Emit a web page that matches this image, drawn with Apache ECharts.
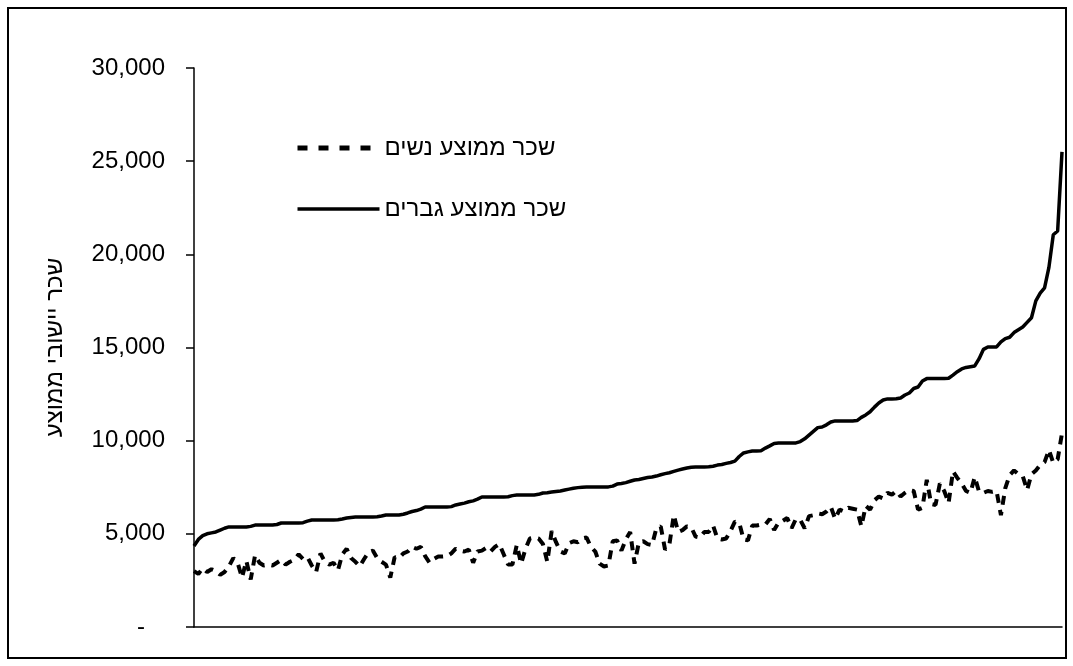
<!DOCTYPE html>
<html>
<head>
<meta charset="utf-8">
<script src="https://cdn.jsdelivr.net/npm/echarts@6/dist/echarts.min.js"></script>
<style>
html,body{margin:0;padding:0;background:#fff;width:1073px;height:666px;overflow:hidden}
#frame{position:absolute;left:7px;top:7px;width:1060px;height:652px;border:2px solid #000;box-sizing:border-box}
#chart{position:absolute;left:0;top:0;width:1073px;height:666px}
</style>
</head>
<body>
<div id="frame"></div>
<div id="chart"></div>
<script>
// Data, 200 localities sorted by men's wage
var menWage = [
4350,4700,4900,5000,5050,5100,5200,5300,5370,5370,
5370,5370,5370,5400,5470,5470,5470,5470,5470,5500,
5580,5580,5580,5580,5580,5600,5680,5740,5740,5740,
5740,5740,5740,5760,5800,5850,5880,5900,5900,5900,
5900,5900,5920,5960,6010,6010,6010,6010,6050,6120,
6200,6250,6330,6440,6440,6440,6440,6440,6440,6460,
6550,6600,6650,6720,6770,6860,6980,6980,6980,6980,
6980,6980,6990,7050,7080,7080,7080,7080,7090,7120,
7190,7210,7240,7270,7300,7350,7400,7450,7480,7500,
7510,7510,7510,7510,7510,7520,7560,7670,7700,7750,
7820,7890,7920,7970,8020,8050,8100,8170,8230,8280,
8350,8420,8480,8530,8570,8590,8590,8590,8600,8630,
8690,8720,8780,8830,8900,9150,9340,9400,9450,9450,
9460,9600,9720,9850,9870,9870,9870,9870,9880,9950,
10100,10300,10500,10700,10730,10850,11000,11060,11060,11060,
11060,11060,11080,11250,11380,11550,11800,12020,12180,12240,
12240,12250,12290,12450,12560,12800,12880,13200,13330,13330,
13330,13330,13330,13350,13520,13700,13850,13930,13970,14010,
14400,14900,15030,15030,15030,15300,15480,15550,15800,15950,
16100,16350,16600,17500,17920,18200,19300,21050,21250,25500
];
var womenWage = [
3000,2850,3150,2950,3100,3000,2800,2950,3250,3700,
3450,2650,3550,2550,3850,3450,3300,3350,3300,3450,
3600,3350,3500,3600,3900,3650,3750,3300,2950,3950,
3500,3350,3450,3050,3900,4200,3700,3500,3250,3650,
4000,4100,3700,3500,3350,2650,3750,3700,3950,4050,
4300,4200,4300,3800,3450,3650,3780,3780,3800,3950,
4200,4100,4050,4150,3450,4050,4100,4250,4050,4300,
4450,3900,3350,3350,4400,3400,4200,4750,4800,4750,
4450,3500,5150,4550,4050,3950,4500,4600,4550,4750,
4800,4300,4050,3400,3250,3300,4600,4650,4100,4700,
5100,3400,4550,4600,4450,4400,5300,5400,4150,4450,
6000,5100,5200,5400,5350,4850,4800,5100,5100,5450,
4750,4700,4750,5150,5650,5600,4700,4650,5450,5450,
5500,5500,5800,5200,5600,5700,5850,5300,5800,5750,
5300,5950,6000,6100,6050,6200,6450,5800,6300,6200,
6400,6350,6300,5400,6500,6300,6800,7000,6900,7200,
7100,7300,7000,7200,7350,7300,6300,6400,7900,6600,
6550,7700,7300,6650,8350,8000,7700,7300,7200,8050,
7250,7200,7300,7250,7300,6000,7450,8150,8400,8200,
8100,7350,8200,8400,8700,8850,9500,8800,9000,10400
];
var categories = menWage.map(function (v, i) { return String(i + 1); });
var seriesNames = ['שכר ממוצע נשים', 'שכר ממוצע גברים'];
var yAxisTitle = 'שכר יישובי ממוצע';
var yTicks = { min: 0, max: 30000, interval: 5000 };

var FONT = 'Liberation Sans, Arial, sans-serif';
var chart = echarts.init(document.getElementById('chart'), null, { renderer: 'canvas' });
chart.setOption({
  animation: false,
  backgroundColor: 'transparent',
  grid: { left: 194, right: 11, top: 68, bottom: 39, containLabel: false },
  legend: {
    orient: 'vertical',
    left: 290,
    top: 131,
    itemWidth: 82,
    itemHeight: 14,
    itemGap: 37,
    align: 'left',
    data: [
      { name: seriesNames[0], lineStyle: { width: 5, type: [10, 11], color: '#000' } },
      { name: seriesNames[1], lineStyle: { width: 3.5, type: 'solid', color: '#000' } }
    ],
    itemStyle: { opacity: 0 },
    textStyle: { fontFamily: FONT, fontSize: 24, color: '#000' }
  },
  xAxis: {
    type: 'category',
    data: categories,
    boundaryGap: false,
    axisLine: { show: true, lineStyle: { color: '#000', width: 1.5 } },
    axisTick: { show: false },
    axisLabel: { show: false },
    splitLine: { show: false }
  },
  yAxis: {
    type: 'value',
    min: yTicks.min,
    max: yTicks.max,
    interval: yTicks.interval,
    name: yAxisTitle,
    nameLocation: 'middle',
    nameGap: 127,
    nameRotate: 90,
    nameTextStyle: { fontFamily: FONT, fontSize: 24, color: '#000' },
    axisLine: { show: true, lineStyle: { color: '#000', width: 1.5 } },
    axisTick: { show: true, inside: false, length: 8, lineStyle: { color: '#000', width: 1.5 } },
    axisLabel: {
      margin: 29,
      fontFamily: FONT,
      fontSize: 24,
      color: '#000',
      formatter: function (v) { return v === 0 ? '-   ' : v.toLocaleString('en-US'); }
    },
    splitLine: { show: false }
  },
  series: [
    {
      name: seriesNames[0],
      type: 'line',
      data: womenWage,
      symbol: 'none',
      smooth: false,
      lineStyle: { color: '#000', width: 4, type: [9, 7], cap: 'butt' },
      itemStyle: { color: '#000' },
      z: 2
    },
    {
      name: seriesNames[1],
      type: 'line',
      data: menWage,
      symbol: 'none',
      smooth: false,
      lineStyle: { color: '#000', width: 3.5, type: 'solid' },
      itemStyle: { color: '#000' },
      z: 3
    }
  ]
});
</script>
</body>
</html>
